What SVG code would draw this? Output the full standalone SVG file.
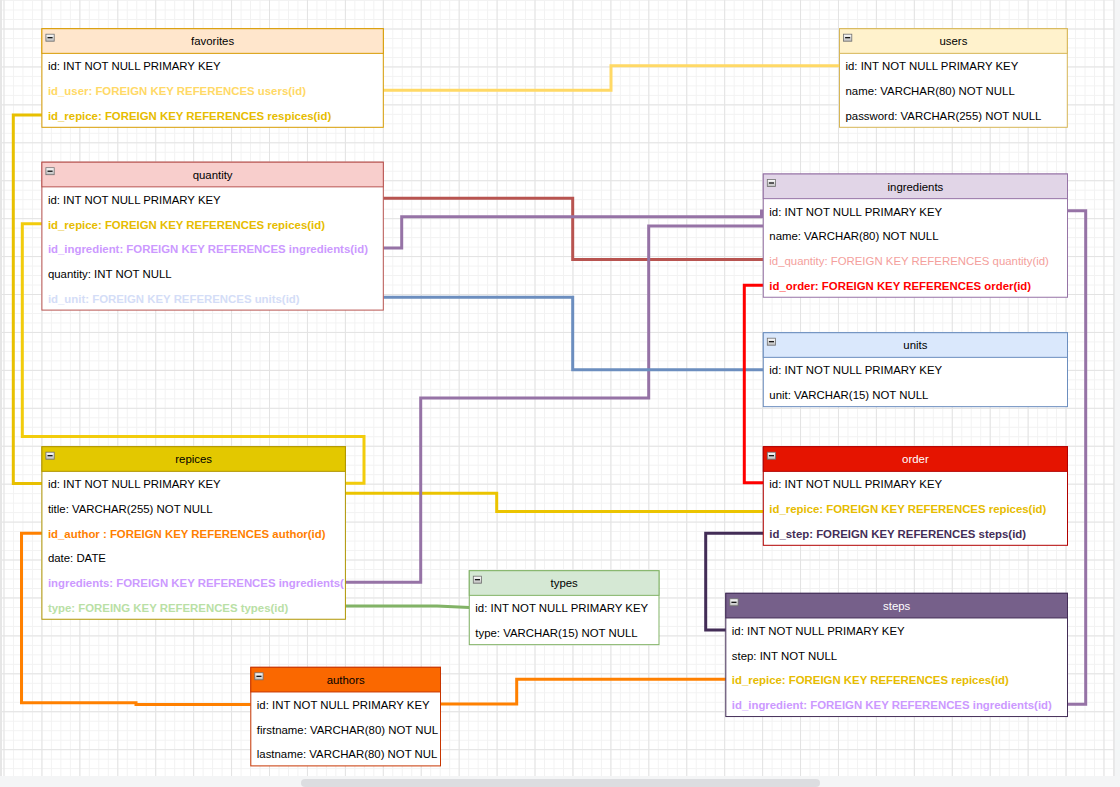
<svg xmlns="http://www.w3.org/2000/svg" width="1120" height="787" viewBox="0 0 1120 787">
<style>
.t{font-family:"Liberation Sans",Arial,Helvetica,sans-serif;font-size:11.4px;fill:#000}
.b{font-weight:bold}
.ttl{text-anchor:middle}
.w{fill:#fff}
.c{fill:none;stroke-width:3;stroke-linejoin:miter;stroke-linecap:butt}
.gold{fill:#e6bc00}
.lp{fill:#cc99ff}
</style>
<defs>
<pattern id="minor" width="9.483" height="9.483" patternUnits="userSpaceOnUse" x="3.5" y="0.05">
<path d="M0 0.5H9.483M0.5 0V9.483" stroke="#f2f2f2" stroke-width="1" fill="none"/>
</pattern>
<pattern id="major" width="37.93" height="37.93" patternUnits="userSpaceOnUse" x="3.5" y="28.5">
<path d="M0 0.5H37.93M0.5 0V37.93" stroke="#e3e3e3" stroke-width="1" fill="none"/>
</pattern>
<linearGradient id="ig" x1="0" y1="0" x2="0" y2="1">
<stop offset="0" stop-color="#ffffff"/>
<stop offset="1" stop-color="#bdbdbd"/>
</linearGradient>
<g id="icon">
<rect x="4" y="5.5" width="8.3" height="7" fill="url(#ig)" stroke="#6f6f6f" stroke-width="0.8"/>
<path d="M5.6 9H10.7" stroke="#000" stroke-width="1.2"/>
</g>
<clipPath id="clipRep"><rect x="0" y="0" width="303.5" height="173"/></clipPath>
</defs>

<rect x="0" y="0" width="1120" height="787" fill="#ffffff"/>
<rect x="0" y="0" width="1114" height="776" fill="url(#minor)"/>
<rect x="0" y="0" width="1114" height="776" fill="url(#major)"/>
<rect x="0" y="0" width="2" height="776" fill="#e6e6e6"/>
<rect x="1114" y="0" width="6" height="776" fill="#f4f5f6"/>
<rect x="1113.5" y="0" width="1" height="776" fill="#dedede"/>
<rect x="0" y="776" width="1120" height="11" fill="#f4f5f6"/>
<rect x="301" y="779" width="519" height="8" rx="4" fill="#dcdde0"/>

<g id="connectors">
<path class="c" stroke="#ffd966" d="M383.3 90.3H611V65.7H839.5"/>
<path class="c" stroke="#e8c000" d="M41.9 115H13.3V483.5H41.9"/>
<path class="c" stroke="#f2cc0c" d="M41.9 223.8H22.3V436.5H364V483.3H345.4"/>
<path class="c" stroke="#ebc400" d="M345.4 493.3H496.7V511.5H763.3"/>
<path class="c" stroke="#b85450" d="M383.3 198.3H572.7V259.5H763.3"/>
<path class="c" stroke="#9673a6" d="M383.3 248H401.7V216.7H761.5V211H763.3"/>
<path class="c" stroke="#9673a6" d="M345.4 582.3H420.7V398H648.7V226H763.3"/>
<path class="c" stroke="#6c8ebf" d="M383.3 297.3H572.7V369.7H763.3"/>
<path class="c" stroke="#ff0000" d="M763.3 285.3H744.3V482.7H763.3"/>
<path class="c" stroke="#432d57" d="M763.3 533.3H705.7V630H725.8"/>
<path class="c" stroke="#9673a6" d="M1067.5 210.7H1085.7V704.2H1067.5"/>
<path class="c" stroke="#ff8000" d="M41.9 533.3H21.5V702.7H136V704.5H250.8"/>
<path class="c" stroke="#ff8000" d="M440.5 704H516.7V679.3H725.8"/>
<path class="c" stroke="#82b366" d="M345.4 606H437L469.3 607.5"/>
</g>

<g id="favorites" transform="translate(41.9,28.7)">
<rect x="0" y="0" width="341.4" height="98.6" fill="#fff" stroke="#d79b00"/>
<rect x="0" y="0" width="341.4" height="24.65" fill="#ffe6cc" stroke="#d79b00"/>
<use href="#icon"/>
<text class="t ttl" x="170.7" y="16.5">favorites</text>
<text class="t" x="6" y="41.8">id: INT NOT NULL PRIMARY KEY</text>
<text class="t b" x="6" y="66.4" style="fill:#ffd966">id_user: FOREIGN KEY REFERENCES users(id)</text>
<text class="t b gold" x="6" y="91.1">id_repice: FOREIGN KEY REFERENCES respices(id)</text>
</g>

<g id="users" transform="translate(839.5,28.7)">
<rect x="0" y="0" width="227.8" height="98.6" fill="#fff" stroke="#d6b656"/>
<rect x="0" y="0" width="227.8" height="24.65" fill="#fff2cc" stroke="#d6b656"/>
<use href="#icon"/>
<text class="t ttl" x="113.9" y="16.5">users</text>
<text class="t" x="6" y="41.8">id: INT NOT NULL PRIMARY KEY</text>
<text class="t" x="6" y="66.4">name: VARCHAR(80) NOT NULL</text>
<text class="t" x="6" y="91.1">password: VARCHAR(255) NOT NULL</text>
</g>

<g id="quantity" transform="translate(41.9,162.2)">
<rect x="0" y="0" width="341.4" height="147.9" fill="#fff" stroke="#b85450"/>
<rect x="0" y="0" width="341.4" height="24.65" fill="#f8cecc" stroke="#b85450"/>
<use href="#icon"/>
<text class="t ttl" x="170.7" y="16.5">quantity</text>
<text class="t" x="6" y="41.8">id: INT NOT NULL PRIMARY KEY</text>
<text class="t b gold" x="6" y="66.4">id_repice: FOREIGN KEY REFERENCES repices(id)</text>
<text class="t b lp" x="6" y="91.1">id_ingredient: FOREIGN KEY REFERENCES ingredients(id)</text>
<text class="t" x="6" y="115.7">quantity: INT NOT NULL</text>
<text class="t b" x="6" y="140.4" style="fill:#d4ddf7">id_unit: FOREIGN KEY REFERENCES units(id)</text>
</g>

<g id="ingredients" transform="translate(763.3,174)">
<rect x="0" y="0" width="304.2" height="123.25" fill="#fff" stroke="#9673a6"/>
<rect x="0" y="0" width="304.2" height="24.65" fill="#e1d5e7" stroke="#9673a6"/>
<use href="#icon"/>
<text class="t ttl" x="152.1" y="16.5">ingredients</text>
<text class="t" x="6" y="41.8">id: INT NOT NULL PRIMARY KEY</text>
<text class="t" x="6" y="66.4">name: VARCHAR(80) NOT NULL</text>
<text class="t" x="6" y="91.1" style="fill:#f4a09c">id_quantity: FOREIGN KEY REFERENCES quantity(id)</text>
<text class="t b" x="6" y="115.7" style="fill:#ff0000">id_order: FOREIGN KEY REFERENCES order(id)</text>
</g>

<g id="units" transform="translate(763.3,332.7)">
<rect x="0" y="0" width="304.2" height="73.95" fill="#fff" stroke="#6c8ebf"/>
<rect x="0" y="0" width="304.2" height="24.65" fill="#dae8fc" stroke="#6c8ebf"/>
<use href="#icon"/>
<text class="t ttl" x="152.1" y="16.5">units</text>
<text class="t" x="6" y="41.8">id: INT NOT NULL PRIMARY KEY</text>
<text class="t" x="6" y="66.4">unit: VARCHAR(15) NOT NULL</text>
</g>

<g id="repices" transform="translate(41.9,446.7)">
<rect x="0" y="0" width="303.5" height="172.55" fill="#fff" stroke="#b09500"/>
<rect x="0" y="0" width="303.5" height="24.65" fill="#e3c800" stroke="#b09500"/>
<use href="#icon"/>
<text class="t ttl" x="151.75" y="16.5">repices</text>
<g clip-path="url(#clipRep)">
<text class="t" x="6" y="41.8">id: INT NOT NULL PRIMARY KEY</text>
<text class="t" x="6" y="66.4">title: VARCHAR(255) NOT NULL</text>
<text class="t b" x="6" y="91.1" style="fill:#ff8000">id_author : FOREIGN KEY REFERENCES author(id)</text>
<text class="t" x="6" y="115.7">date: DATE</text>
<text class="t b lp" x="6" y="140.4">ingredients: FOREIGN KEY REFERENCES ingredients(</text>
<text class="t b" x="6" y="165" style="fill:#b9e0a5">type: FOREING KEY REFERENCES types(id)</text>
</g>
</g>

<g id="order" transform="translate(763.3,446.7)">
<rect x="0" y="0" width="304.2" height="98.6" fill="#fff" stroke="#b20000"/>
<rect x="0" y="0" width="304.2" height="24.65" fill="#e51400" stroke="#b20000"/>
<use href="#icon"/>
<text class="t ttl w" x="152.1" y="16.5">order</text>
<text class="t" x="6" y="41.8">id: INT NOT NULL PRIMARY KEY</text>
<text class="t b gold" x="6" y="66.4">id_repice: FOREIGN KEY REFERENCES repices(id)</text>
<text class="t b" x="6" y="91.1" style="fill:#432d57">id_step: FOREIGN KEY REFERENCES steps(id)</text>
</g>

<g id="steps" transform="translate(725.8,593.3)">
<rect x="0" y="0" width="341.7" height="123.25" fill="#fff" stroke="#432d57"/>
<rect x="0" y="0" width="341.7" height="24.65" fill="#76608a" stroke="#432d57"/>
<use href="#icon"/>
<text class="t ttl w" x="170.85" y="16.5">steps</text>
<text class="t" x="6" y="41.8">id: INT NOT NULL PRIMARY KEY</text>
<text class="t" x="6" y="66.4">step: INT NOT NULL</text>
<text class="t b gold" x="6" y="91.1">id_repice: FOREIGN KEY REFERENCES repices(id)</text>
<text class="t b lp" x="6" y="115.7">id_ingredient: FOREIGN KEY REFERENCES ingredients(id)</text>
</g>

<g id="types" transform="translate(469.3,570.7)">
<rect x="0" y="0" width="189.7" height="73.95" fill="#fff" stroke="#82b366"/>
<rect x="0" y="0" width="189.7" height="24.65" fill="#d5e8d4" stroke="#82b366"/>
<use href="#icon"/>
<text class="t ttl" x="94.85" y="16.5">types</text>
<text class="t" x="6" y="41.8">id: INT NOT NULL PRIMARY KEY</text>
<text class="t" x="6" y="66.4">type: VARCHAR(15) NOT NULL</text>
</g>

<g id="authors" transform="translate(250.8,667.3)">
<rect x="0" y="0" width="189.7" height="98.6" fill="#fff" stroke="#c73500"/>
<rect x="0" y="0" width="189.7" height="24.65" fill="#fa6800" stroke="#c73500"/>
<use href="#icon"/>
<text class="t ttl" x="94.85" y="16.5">authors</text>
<text class="t" x="6" y="41.8">id: INT NOT NULL PRIMARY KEY</text>
<text class="t" x="6" y="66.4">firstname: VARCHAR(80) NOT NUL</text>
<text class="t" x="6" y="91.1">lastname: VARCHAR(80) NOT NUL</text>
</g>
</svg>
